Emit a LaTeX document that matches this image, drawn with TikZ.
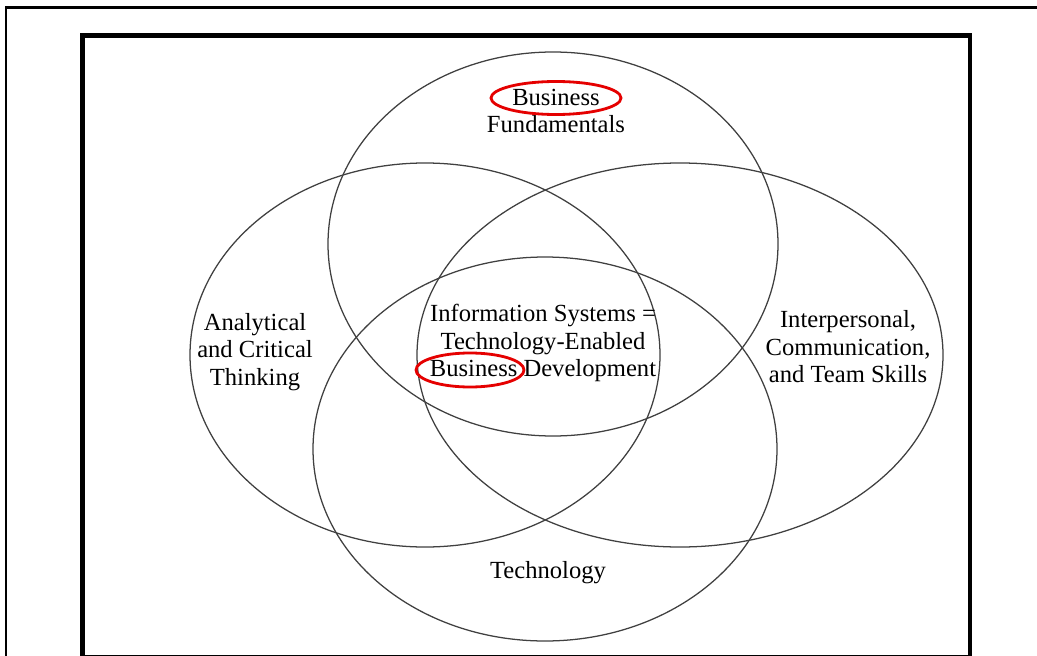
\documentclass[tikz,border=0pt]{standalone}
\usepackage{fontspec}
\setmainfont{Liberation Serif}
\usepackage{tikz}
\usetikzlibrary{shapes.geometric}
\tikzstyle{venn} = [draw=black!75, line width=0.9pt]
\tikzstyle{ring} = [draw=red!90!black, line width=2pt]
\tikzstyle{area} = [align=center, font=\fontsize{17.5}{19.5}\selectfont, inner sep=0pt]
\tikzstyle{frame} = [draw=black, line width=1.6pt]
\tikzstyle{box} = [draw=black, line width=3pt]

\begin{document}
\begin{tikzpicture}[x=0.025cm, y=-0.025cm]

  \clip (0,0) rectangle (1037,656);
  \fill[white] (0,0) rectangle (1037,656);

  % frames
  \draw [frame] (6,700) -- (6,7.5) -- (1100,7.5);
  \draw [box] (82.5,35.5) rectangle (970,657);

  % the four sets
  \draw [venn] (553,244) ellipse [x radius=225, y radius=192];
  \draw [venn] (425,355) ellipse [x radius=235, y radius=192];
  \draw [venn] (680,355) ellipse [x radius=263, y radius=192];
  \draw [venn] (545,449) ellipse [x radius=232, y radius=192];

  % labels
  \node (fund) [area] at (556,111) {Business\\Fundamentals};
  \node (core) [area] at (543,343) {Information Systems =\\Technology-Enabled\\Business Development};
  \node (think) [area] at (255,352) {Analytical\\and Critical\\Thinking};
  \node (skills) [area] at (848,347) {Interpersonal,\\Communication,\\and Team Skills};
  \node (tech) [area] at (548,573) {Technology};

  % highlights
  \draw [ring] (556,98) ellipse [x radius=65, y radius=16.5];
  \draw [ring] (470,370) ellipse [x radius=54, y radius=17];

\end{tikzpicture}
\end{document}
